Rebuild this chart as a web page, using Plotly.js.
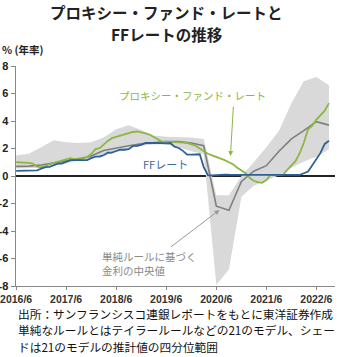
<!DOCTYPE html>
<html><head><meta charset="utf-8">
<script src="https://cdn.plot.ly/plotly-3.0.1.min.js"></script>
<style>html,body{margin:0;padding:0;background:#fff;} #chart{width:340px;height:357px;}</style>
</head><body><div id="chart"></div>
<script>
// Monthly series 2016/6 - 2022/9
var monthStart = '2016-06';
var ffRate = [0.38,0.39,0.40,0.40,0.40,0.41,0.54,
  0.65,0.66,0.79,0.90,0.91,1.04,1.15,1.16,1.15,1.15,1.16,1.30,
  1.41,1.42,1.51,1.69,1.70,1.82,1.91,1.91,1.95,2.19,2.20,2.27,
  2.40,2.40,2.41,2.42,2.39,2.38,2.40,2.13,2.04,1.83,1.55,1.55,
  1.55,1.58,0.65,0.05,0.05,0.08,0.09,0.10,0.09,0.09,0.09,0.09,
  0.09,0.08,0.07,0.07,0.06,0.08,0.10,0.09,0.08,0.08,0.08,0.08,
  0.08,0.08,0.20,0.33,0.77,1.21,1.68,2.33,2.56];
var proxyRate = [1.0,1.0,0.98,0.95,0.9,0.68,0.65,
  0.7,0.87,0.95,1.05,1.15,1.26,1.3,1.23,1.28,1.33,1.38,1.6,
  1.96,2.03,2.3,2.55,2.75,2.85,2.95,3.05,3.1,3.2,3.25,3.2,
  3.1,3.0,2.85,2.65,2.5,2.5,2.5,2.47,2.45,2.42,2.4,2.3,
  2.2,2.0,1.8,1.62,1.5,1.4,1.3,1.15,1.0,0.85,0.6,0.42,
  0.2,-0.15,-0.35,-0.45,-0.5,-0.3,0.07,0.07,0.07,0.1,0.45,0.8,
  1.1,1.7,2.4,3.4,3.65,4.1,4.45,4.75,5.3];
// Quarterly series 2016/6 - 2022/9 (21 simple rules)
var ruleMedian = [0.7,0.72,0.8,0.95,1.1,1.2,1.45,1.85,2.05,2.2,2.35,2.45,2.5,2.5,2.4,2.2,-2.2,-2.5,-0.4,0.35,0.75,1.8,2.7,3.3,3.95,3.7];
var ruleUpper  = [1.5,1.62,2.1,2.6,2.45,2.4,2.45,2.8,3.4,3.7,3.35,2.95,2.85,2.85,2.8,2.7,-1.4,-1.4,0.0,1.0,2.1,3.3,5.3,6.9,7.2,6.6];
var ruleLower  = [0.55,0.6,0.6,0.75,0.95,1.1,1.3,1.5,1.75,2.0,2.2,2.3,2.3,2.1,1.8,1.6,-7.9,-6.8,-1.5,-0.7,-0.3,0.05,0.6,1.05,1.4,1.95];
var tickDates = ['2016-06-01','2017-06-01','2018-06-01','2019-06-01','2020-06-01','2021-06-01','2022-06-01'];
var tickLabels = ['2016/6','2017/6','2018/6','2019/6','2020/6','2021/6','2022/6'];
var yTicks = [-8,-6,-4,-2,0,2,4,6,8];
var titleLines = ['プロキシー・ファンド・レートと','FFレートの推移'];

function monthSeq(start, n, step){
  var p = start.split('-'); var y = +p[0], m = +p[1]; var out = [];
  for (var i=0;i<n;i++){ out.push(y+'-'+(m<10?'0':'')+m+'-01'); m += step; while(m>12){m-=12;y++;} }
  return out;
}
var mDates = monthSeq(monthStart, ffRate.length, 1);
var qDates = monthSeq(monthStart, ruleMedian.length, 3);

var jp = 'Noto Sans CJK JP';
var green = '#8cb83f', blue = '#2d6199', grayLine = '#7f7f7f';

var traces = [
  {x:qDates, y:ruleLower, mode:'lines', line:{width:0, color:'#d9d9d9'}, hoverinfo:'skip'},
  {x:qDates, y:ruleUpper, mode:'lines', line:{width:0, color:'#d9d9d9'}, fill:'tonexty', fillcolor:'#d9d9d9', hoverinfo:'skip'},
  {x:qDates, y:ruleMedian, mode:'lines', line:{width:1.6, color:grayLine}},
  {x:mDates, y:proxyRate, mode:'lines', line:{width:1.8, color:green}},
  {x:mDates, y:ffRate, mode:'lines', line:{width:1.8, color:blue}}
];

var titleFont = {family:jp, size:15.5, color:'#222', weight:'bold'};
var layout = {
  width:340, height:357,
  margin:{l:16, r:5, t:66, b:71},
  paper_bgcolor:'#fff', plot_bgcolor:'#fff',
  showlegend:false,
  xaxis:{type:'date', range:['2016-05-31','2022-10-15'], tickvals:tickDates, ticktext:tickLabels,
    showline:true, linecolor:'#888', linewidth:1, ticks:'outside', ticklen:3, tickcolor:'#888',
    showgrid:false, zeroline:false, fixedrange:true,
    tickfont:{family:'Liberation Sans', size:10.5, color:'#333', weight:'bold'}},
  yaxis:{range:[-8,8], tickvals:yTicks, ticktext:yTicks.map(String),
    showline:true, linecolor:'#888', linewidth:1.5, ticks:'outside', ticklen:4, tickcolor:'#888',
    showgrid:false, zeroline:true, zerolinecolor:'#222', zerolinewidth:2, fixedrange:true,
    tickfont:{family:'Liberation Sans', size:11, color:'#222', weight:'bold'}},
  annotations:[
    {text:titleLines[0], xref:'paper', yref:'paper', x:0.473, y:1.2455, xanchor:'center', yanchor:'middle', showarrow:false, font:titleFont},
    {text:titleLines[1], xref:'paper', yref:'paper', x:0.473, y:1.1432, xanchor:'center', yanchor:'middle', showarrow:false, font:titleFont},
    {text:'% (年率)', xref:'paper', yref:'paper', x:-0.05, y:1.073, xanchor:'left', yanchor:'middle', showarrow:false,
      font:{family:jp, size:10.5, color:'#222', weight:'bold'}},
    {text:'プロキシー・ファンド・レート', xref:'paper', yref:'paper', x:0.552, y:0.864, xanchor:'center', yanchor:'middle', showarrow:false,
      font:{family:jp, size:10.5, color:green}},
    {text:'', x:'2020-09-12', y:1.45, ax:3, ay:-51, showarrow:true, arrowhead:2, arrowsize:1, arrowwidth:1, arrowcolor:green},
    {text:'FFレート', xref:'paper', yref:'paper', x:0.470, y:0.5545, xanchor:'center', yanchor:'middle', showarrow:false,
      font:{family:jp, size:11, color:'#3a6a9c'}},
    {text:'単純ルールに基づく<br>金利の中央値', xref:'paper', yref:'paper', x:0.263, y:0.1045, xanchor:'left', yanchor:'middle', align:'left', showarrow:false,
      font:{family:jp, size:10.5, color:'#8a8a8a'}},
    {text:'', x:'2020-06-24', y:-2.47, ax:-50, ay:38, showarrow:true, arrowhead:2, arrowsize:1, arrowwidth:1, arrowcolor:'#999'},
    {text:'出所：サンフランシスコ連銀レポートをもとに東洋証券作成', xref:'paper', yref:'paper', x:0, y:-0.124, xanchor:'left', yanchor:'middle', showarrow:false,
      font:{family:jp, size:11.7, color:'#111'}},
    {text:'単純なルールとはテイラールールなどの21のモデル、シェー', xref:'paper', yref:'paper', x:0, y:-0.197, xanchor:'left', yanchor:'middle', showarrow:false,
      font:{family:jp, size:11.7, color:'#111'}},
    {text:'ドは21のモデルの推計値の四分位範囲', xref:'paper', yref:'paper', x:0, y:-0.276, xanchor:'left', yanchor:'middle', showarrow:false,
      font:{family:jp, size:11.7, color:'#111'}}
  ]
};
Plotly.newPlot('chart', traces, layout, {displayModeBar:false, staticPlot:true});
</script></body></html>
